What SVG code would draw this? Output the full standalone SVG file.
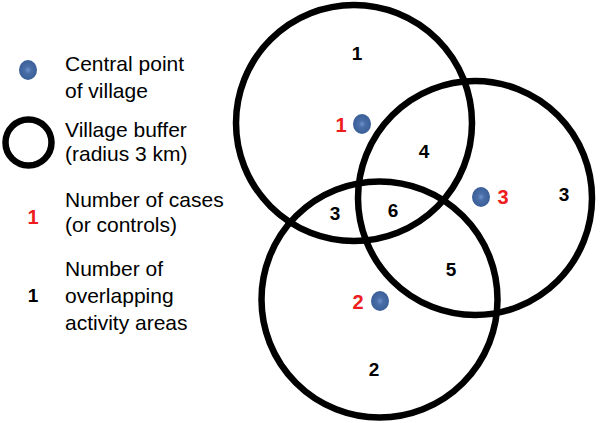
<svg xmlns="http://www.w3.org/2000/svg" width="600" height="423" viewBox="0 0 600 423">
<defs>
<radialGradient id="dotg" cx="0.5" cy="0.5" r="0.5">
<stop offset="0" stop-color="#6f93c8"/>
<stop offset="0.35" stop-color="#4a6fa8"/>
<stop offset="1" stop-color="#3a5f98"/>
</radialGradient>
</defs>
<style>
.buf{fill:none;stroke:#000;stroke-width:6.5}
.dot{fill:url(#dotg)}
.t{font-family:"Liberation Sans",Arial,sans-serif;font-size:21px;fill:#000}
.n{font-family:"Liberation Sans",Arial,sans-serif;font-size:19px;font-weight:bold;fill:#000;text-anchor:middle}
.r{fill:#ee1c1c;font-size:20px}
</style>
<rect width="600" height="423" fill="#fff"/>
<g id="legend">
<g id="legend-point"><ellipse class="dot" cx="28" cy="70" rx="9" ry="10"/><text class="t" x="65" y="71">Central point</text><text class="t" x="65" y="98">of village</text></g>
<g id="legend-buffer"><circle class="buf" cx="28.5" cy="142.5" r="23" stroke-width="7"/><text class="t" x="65" y="137">Village buffer</text><text class="t" x="65" y="161">(radius 3 km)</text></g>
<g id="legend-cases"><text class="n r" x="33" y="224">1</text><text class="t" x="65" y="207">Number of cases</text><text class="t" x="65" y="232">(or controls)</text></g>
<g id="legend-overlap"><text class="n" x="33" y="302">1</text><text class="t" x="65" y="276">Number of</text><text class="t" x="65" y="303">overlapping</text><text class="t" x="65" y="330">activity areas</text></g>
</g>
<g id="buffers">
<g id="village1"><circle class="buf" cx="354" cy="123" r="118"/><ellipse class="dot" cx="362" cy="124" rx="9" ry="10"/><text class="n r" x="341" y="132">1</text></g>
<g id="village2"><circle class="buf" cx="475" cy="198" r="117"/><ellipse class="dot" cx="481" cy="197" rx="9" ry="10"/><text class="n r" x="503" y="204">3</text></g>
<g id="village3"><circle class="buf" cx="379.5" cy="299.5" r="118"/><ellipse class="dot" cx="380" cy="301" rx="9" ry="10"/><text class="n r" x="358" y="309">2</text></g>
</g>
<g id="areas">
<text class="n" x="357" y="60">1</text>
<text class="n" x="424" y="158">4</text>
<text class="n" x="564" y="201">3</text>
<text class="n" x="335" y="220">3</text>
<text class="n" x="393" y="217">6</text>
<text class="n" x="451" y="276">5</text>
<text class="n" x="374" y="376">2</text>
</g>
</svg>
